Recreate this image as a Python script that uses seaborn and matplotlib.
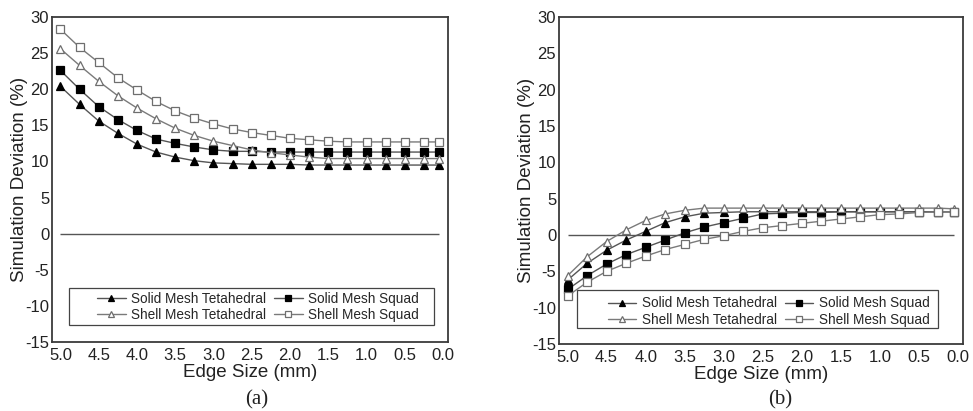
import numpy as np
import pandas as pd
import matplotlib
matplotlib.use("Agg")
from matplotlib import pyplot as plt
from matplotlib.patches import Rectangle
import seaborn as sns

# edge size (mm), 21 mesh refinements
edge = [5.0, 4.75, 4.5, 4.25, 4.0, 3.75, 3.5, 3.25, 3.0, 2.75, 2.5,
        2.25, 2.0, 1.75, 1.5, 1.25, 1.0, 0.75, 0.5, 0.25, 0.05]

# panel (a)
a_solid_tet = [20.4, 17.9, 15.6, 13.9, 12.4, 11.3, 10.6, 10.1, 9.8, 9.7, 9.6,
               9.6, 9.6, 9.5, 9.5, 9.5, 9.5, 9.5, 9.5, 9.5, 9.5]
a_solid_squad = [22.6, 20.0, 17.6, 15.8, 14.3, 13.1, 12.5, 12.0, 11.6, 11.4, 11.4,
                 11.3, 11.3, 11.3, 11.3, 11.3, 11.3, 11.3, 11.3, 11.3, 11.3]
a_shell_tet = [25.6, 23.3, 21.1, 19.1, 17.4, 15.9, 14.6, 13.6, 12.8, 12.2, 11.6,
               11.2, 10.9, 10.6, 10.4, 10.4, 10.4, 10.4, 10.4, 10.4, 10.4]
a_shell_squad = [28.3, 25.8, 23.7, 21.6, 19.9, 18.3, 17.0, 16.0, 15.2, 14.5, 14.0,
                 13.6, 13.2, 13.0, 12.8, 12.7, 12.7, 12.7, 12.7, 12.7, 12.7]

# panel (b)
b_solid_tet = [-6.2, -3.9, -2.1, -0.7, 0.5, 1.7, 2.5, 3.0, 3.1, 3.2, 3.2,
               3.2, 3.2, 3.2, 3.2, 3.2, 3.2, 3.2, 3.2, 3.2, 3.2]
b_solid_squad = [-7.5, -5.6, -4.0, -2.7, -1.7, -0.7, 0.3, 1.1, 1.7, 2.3, 2.9,
                 3.0, 3.1, 3.1, 3.2, 3.2, 3.2, 3.2, 3.2, 3.2, 3.2]
b_shell_tet = [-5.6, -3.0, -0.9, 0.7, 2.0, 2.9, 3.4, 3.7, 3.7, 3.7, 3.7,
               3.7, 3.7, 3.7, 3.7, 3.7, 3.7, 3.7, 3.7, 3.7, 3.6]
b_shell_squad = [-8.4, -6.5, -5.0, -3.9, -2.9, -2.0, -1.3, -0.6, -0.1, 0.5, 1.0,
                 1.3, 1.6, 1.9, 2.2, 2.5, 2.8, 2.9, 3.1, 3.2, 3.2]

SERIES = ["Solid Mesh Tetahedral", "Solid Mesh Squad",
          "Shell Mesh Tetahedral", "Shell Mesh Squad"]
XTICKS = [5.0, 4.5, 4.0, 3.5, 3.0, 2.5, 2.0, 1.5, 1.0, 0.5, 0.0]
YTICKS = [30, 25, 20, 15, 10, 5, 0, -5, -10, -15]

STYLE = {
    "Solid Mesh Tetahedral": dict(marker="^", ms=6.2, mfc="black", mec="black", color="#555555"),
    "Solid Mesh Squad": dict(marker="s", ms=5.3, mfc="black", mec="black", color="#555555"),
    "Shell Mesh Tetahedral": dict(marker="^", ms=6.2, mfc="white", mec="#6e6e6e", color="#7a7a7a"),
    "Shell Mesh Squad": dict(marker="s", ms=5.3, mfc="white", mec="#6e6e6e", color="#7a7a7a"),
}

sns.set_theme(style="white")
plt.rcParams["font.family"] = ["Liberation Sans", "DejaVu Sans"]
plt.rcParams["axes.unicode_minus"] = False


def panel(ax, ys, leg_box, leg_center):
    df = pd.DataFrame({"edge": edge})
    for name, y in zip(SERIES, ys):
        st = STYLE[name]
        sns.lineplot(x=df["edge"], y=y, ax=ax, color=st["color"], lw=1.0,
                     marker=st["marker"], markersize=st["ms"],
                     markerfacecolor=st["mfc"], markeredgecolor=st["mec"],
                     markeredgewidth=0.9, label=name, zorder=3)
    ax.hlines(0, max(edge), min(edge), color="#555555", lw=1.0, zorder=1)
    ax.set_xlim(5.11, -0.065)
    ax.set_ylim(-15, 30)
    ax.set_xticks(XTICKS)
    ax.set_xticklabels([f"{t:.1f}" for t in XTICKS])
    ax.set_yticks(YTICKS)
    ax.tick_params(length=0, labelsize=12, colors="#222222")
    ax.tick_params(axis="y", pad=2)
    ax.tick_params(axis="x", pad=4)
    ax.set_xlabel("Edge Size (mm)", fontsize=13.5, color="#222222", labelpad=1)
    ax.set_ylabel("Simulation Deviation (%)", fontsize=13.5, color="#222222", labelpad=-2)
    for s in ax.spines.values():
        s.set_color("#3a3a3a")
        s.set_linewidth(1.3)
    h, l = ax.get_legend_handles_labels()
    order = [0, 2, 1, 3]
    ax.legend([h[i] for i in order], [l[i] for i in order], ncol=2, frameon=False,
              loc="center", bbox_to_anchor=leg_center, fontsize=9.8,
              handlelength=2.1, handletextpad=0.4, columnspacing=0.6,
              labelspacing=0.2, borderpad=0.2, markerscale=0.8)
    x0, y0, x1, y1 = leg_box
    ax.add_patch(Rectangle((x0, y0), x1 - x0, y1 - y0, transform=ax.transAxes,
                           fill=False, edgecolor="#444444", lw=0.9, zorder=4))


fig = plt.figure(figsize=(9.73, 4.11), dpi=100)
ax_a = fig.add_axes([52 / 973, 69 / 411, 396 / 973, 325 / 411])
ax_b = fig.add_axes([559 / 973, 67 / 411, 404 / 973, 327 / 411])

panel(ax_a, [a_solid_tet, a_solid_squad, a_shell_tet, a_shell_squad],
      (0.043, 0.052, 0.965, 0.166), (0.52, 0.108))
panel(ax_b, [b_solid_tet, b_solid_squad, b_shell_tet, b_shell_squad],
      (0.045, 0.049, 0.938, 0.165), (0.519, 0.099))

fig.text(257 / 973, 1 - 400 / 411, "(a)", ha="center", va="center",
         fontsize=15, family="Liberation Serif", color="#222222")
fig.text(780 / 973, 1 - 400 / 411, "(b)", ha="center", va="center",
         fontsize=15, family="Liberation Serif", color="#222222")

fig.savefig("out.png", dpi=100)
